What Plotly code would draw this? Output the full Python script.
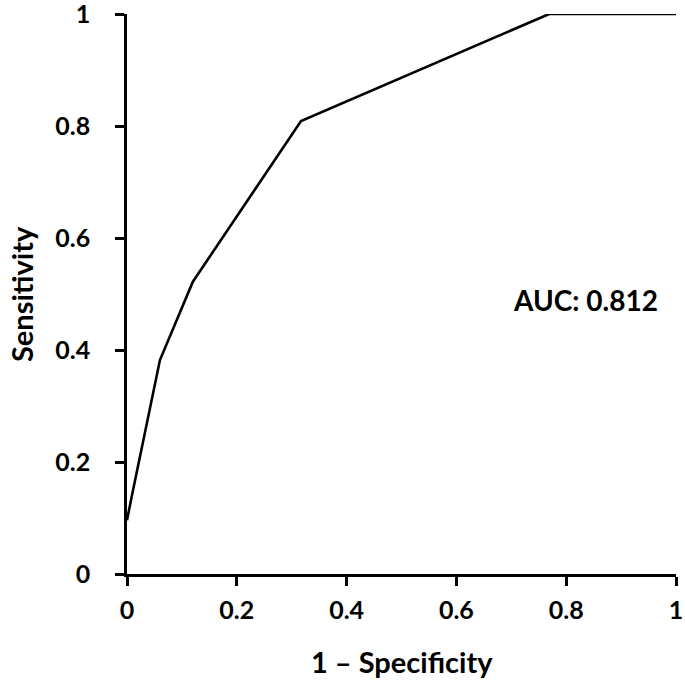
import plotly.graph_objects as go

fpr = [0.0, 0.0085, 0.06, 0.12, 0.317, 0.769, 1.0]
tpr = [0.096, 0.138, 0.382, 0.522, 0.809, 1.0, 1.0]
tick_vals = [0, 0.2, 0.4, 0.6, 0.8, 1]
tick_text = ["0", "0.2", "0.4", "0.6", "0.8", "1"]
auc_label = "AUC: 0.812"
x_title = "1 \u2013 Specificity"
y_title = "Sensitivity"

FONT = "Lato"

fig = go.Figure()
fig.add_trace(go.Scatter(x=fpr, y=tpr, mode="lines",
                         line=dict(color="black", width=2.6),
                         cliponaxis=False, showlegend=False))

fig.add_annotation(x=0.70, y=0.489, xref="x", yref="y", text=auc_label,
                   showarrow=False, xanchor="left", yanchor="middle",
                   font=dict(family=FONT, size=28, color="black", weight="bold"))

fig.add_annotation(x=0, y=0.5, xref="paper", yref="paper", text=y_title,
                   textangle=-90, showarrow=False, xanchor="center", yanchor="middle",
                   xshift=-106,
                   font=dict(family=FONT, size=29, color="black", weight="bold"))
fig.add_annotation(x=0.5, y=0, xref="paper", yref="paper", text=x_title,
                   showarrow=False, xanchor="center", yanchor="middle",
                   yshift=-87,
                   font=dict(family=FONT, size=29, color="black", weight="bold"))

axis_common = dict(
    range=[0, 1], showgrid=False, zeroline=False,
    showline=True, linecolor="black", linewidth=2.5,
    ticks="outside", ticklen=9, tickwidth=2.5, tickcolor="black",
    tickvals=tick_vals, ticktext=tick_text,
    ticklabeloverflow="allow",
    tickfont=dict(family=FONT, size=25, color="black", weight="bold"),
    automargin=False,
)

fig.update_layout(
    width=685, height=682,
    margin=dict(l=127, r=9, t=14, b=108),
    paper_bgcolor="white", plot_bgcolor="white",
    xaxis=dict(**axis_common, ticklabelstandoff=3),
    yaxis=dict(**axis_common, ticklabelstandoff=20),
)

fig.write_html("out.html", config={"displayModeBar": False},
               post_script="document.body.style.margin='0';")
